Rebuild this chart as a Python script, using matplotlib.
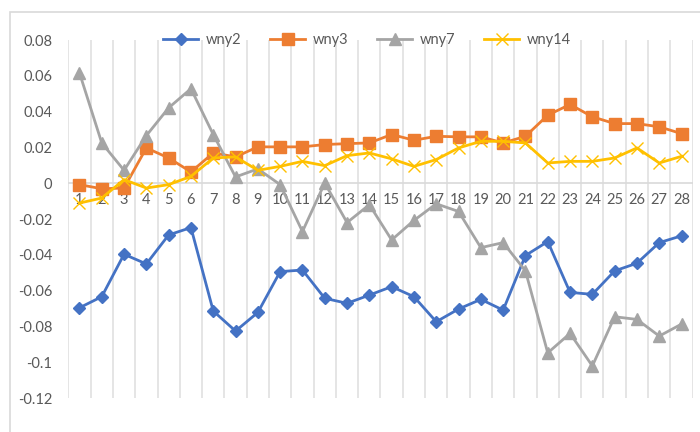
import numpy as np
import matplotlib.pyplot as plt
from matplotlib.patches import Rectangle

plt.rcParams['font.family'] = ['Lato', 'DejaVu Sans']

days = list(range(1, 29))

wny2 = [-0.0696, -0.0634, -0.0397, -0.0451, -0.0289, -0.0248, -0.0714, -0.0826,
        -0.0722, -0.0494, -0.0485, -0.0643, -0.0671, -0.0625, -0.0578, -0.0634,
        -0.0774, -0.0703, -0.0649, -0.0709, -0.0404, -0.0326, -0.0610, -0.0621,
        -0.0490, -0.0447, -0.0332, -0.0294]
wny3 = [-0.0008, -0.0031, -0.0027, 0.0197, 0.0141, 0.0063, 0.0169, 0.0147,
        0.0203, 0.0203, 0.0203, 0.0216, 0.0221, 0.0225, 0.0272, 0.0240,
        0.0262, 0.0259, 0.0259, 0.0225, 0.0262, 0.0380, 0.0440, 0.0371,
        0.0333, 0.0333, 0.0315, 0.0277]
wny7 = [0.0617, 0.0225, 0.0072, 0.0266, 0.0421, 0.0528, 0.0272, 0.0035,
        0.0080, -0.0008, -0.0270, 0.0001, -0.0220, -0.0120, -0.0317, -0.0208,
        -0.0115, -0.0158, -0.0360, -0.0332, -0.0490, -0.0948, -0.0839, -0.1021,
        -0.0746, -0.0761, -0.0854, -0.0787]
wny14 = [-0.0111, -0.0083, 0.0020, -0.0027, -0.0008, 0.0038, 0.0141, 0.0147,
         0.0072, 0.0094, 0.0122, 0.0098, 0.0154, 0.0169, 0.0136, 0.0094,
         0.0132, 0.0197, 0.0234, 0.0234, 0.0225, 0.0113, 0.0122, 0.0122,
         0.0141, 0.0197, 0.0113, 0.0150]

y_ticks = [0.08, 0.06, 0.04, 0.02, 0, -0.02, -0.04, -0.06, -0.08, -0.1, -0.12]

W, H = 700, 432
fig = plt.figure(figsize=(7, 4.32), dpi=100)
ax = fig.add_axes([68.3 / W, 1 - 398 / H, 624.4 / W, 358 / H])

# chart frame (only top and left edges are inside the canvas)
fig.patches.append(Rectangle((10 / W, -0.1), 1.2, 1 - 12 / H + 0.1,
                             transform=fig.transFigure, fill=False,
                             ec='#d9d9d9', lw=1.2))

ax.set_xlim(0.5, 28.5)
ax.set_ylim(-0.12, 0.08)

# vertical gridlines between categories
for b in np.arange(0.5, 29.0, 1.0):
    ax.axvline(b, color='#e3e3e3', lw=1.3, zorder=0)
ax.axhline(0, color='#d9d9d9', lw=1.2, zorder=0.5)

for s in ax.spines.values():
    s.set_visible(False)
ax.set_xticks([])
ax.set_yticks(y_ticks)
ax.set_yticklabels([f'{v:g}' for v in y_ticks], color='#595959', fontsize=10.5)
ax.tick_params(axis='y', length=0, pad=11.5)

# category labels sit just under the zero line
for d in days:
    ax.annotate(str(d), (d, 0), xytext=(0, -12), textcoords='offset points',
                ha='center', va='center', fontsize=10.5, color='#595959', zorder=0.8)

ax.plot(days, wny2, color='#4472C4', lw=2.0, marker='D', ms=6.5, label='wny2', zorder=3)
ax.plot(days, wny3, color='#ED7D31', lw=2.0, marker='s', ms=8, label='wny3', zorder=3)
ax.plot(days, wny7, color='#A5A5A5', lw=2.0, marker='^', ms=8.5, label='wny7', zorder=3)
ax.plot(days, wny14, color='#FFC000', lw=2.0, marker='x', ms=8, mew=1.0,
        label='wny14', zorder=3)

leg = ax.legend(loc='center', bbox_to_anchor=(367 / W, 1 - 40 / H),
                bbox_transform=fig.transFigure, ncol=4, frameon=False,
                fontsize=10.5, handlelength=2.4, handletextpad=0.5,
                columnspacing=2.0)
for t in leg.get_texts():
    t.set_color('#595959')

fig.savefig('out.png', dpi=100)
